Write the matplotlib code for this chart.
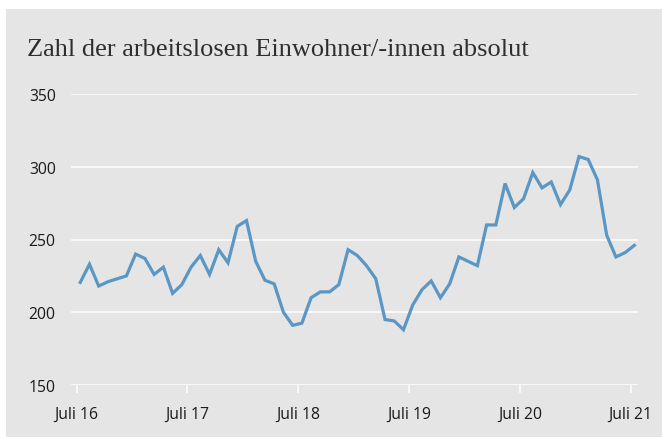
import numpy as np
import matplotlib
matplotlib.use("Agg")
import matplotlib.pyplot as plt
from matplotlib.patches import Rectangle

title = "Zahl der arbeitslosen Einwohner/-innen absolut"
tick_labels = ["Juli 16", "Juli 17", "Juli 18", "Juli 19", "Juli 20", "Juli 21"]
y_ticks = [150, 200, 250, 300, 350]
values = [220.5, 233, 218, 221, 223, 225, 240, 237, 226, 231, 213, 219,
          231, 239, 226, 243, 234, 259, 263, 235, 222, 219.5, 200, 191,
          192.5, 210, 214, 214, 219, 243, 239, 232, 223, 195, 194, 188,
          205, 215.5, 221.5, 210, 219.5, 238, 235, 232, 260, 260, 288.5, 272,
          278, 296, 285.5, 289.5, 274, 284, 307, 305, 291, 253, 238, 241,
          246]

W, H = 662, 439
fig = plt.figure(figsize=(W / 100, H / 100), dpi=100)
fig.patch.set_facecolor("white")
bg = "#e5e5e5"
rect = Rectangle((6 / W, 1 / H), 1 - 6 / W, 428 / H,
                 transform=fig.transFigure, facecolor=bg, edgecolor="none", zorder=-10)
fig.add_artist(rect)

x0, x1 = 71, 637.7
ytop, ybot = 95, 386
ax = fig.add_axes([x0 / W, (H - ybot) / H, (x1 - x0) / W, (ybot - ytop) / H])
ax.set_zorder(5)
ax.set_facecolor("none")
for s in ax.spines.values():
    s.set_visible(False)

n = len(values)
x = np.arange(n) + 0.4
ax.set_xlim(-0.6, 60.76)
ax.set_ylim(150, 350)

for yv in y_ticks:
    ax.axhline(yv, color="white", lw=1.1, zorder=1)

ax.plot(x, values, color="#5a97c4", lw=2.3, solid_joinstyle="miter", zorder=3, clip_on=False)

ax.set_yticks(y_ticks)
ax.set_yticklabels([str(v) for v in y_ticks], fontsize=11.3, family="Open Sans", color="#1a1a1a")
ax.tick_params(axis="y", length=0, pad=11)
ax.set_xticks(np.arange(0, 61, 12))
ax.set_xticklabels(tick_labels, fontsize=11.3, family="Open Sans", color="#1a1a1a")
ax.tick_params(axis="x", length=5.8, width=1.1, color="white", pad=9.5)

fig.text(27 / W, 1 - 50 / H, title, family="Liberation Serif", fontsize=19,
         color="#2e2e2e", va="center", ha="left")

fig.savefig("out.png", dpi=100, facecolor="white")
